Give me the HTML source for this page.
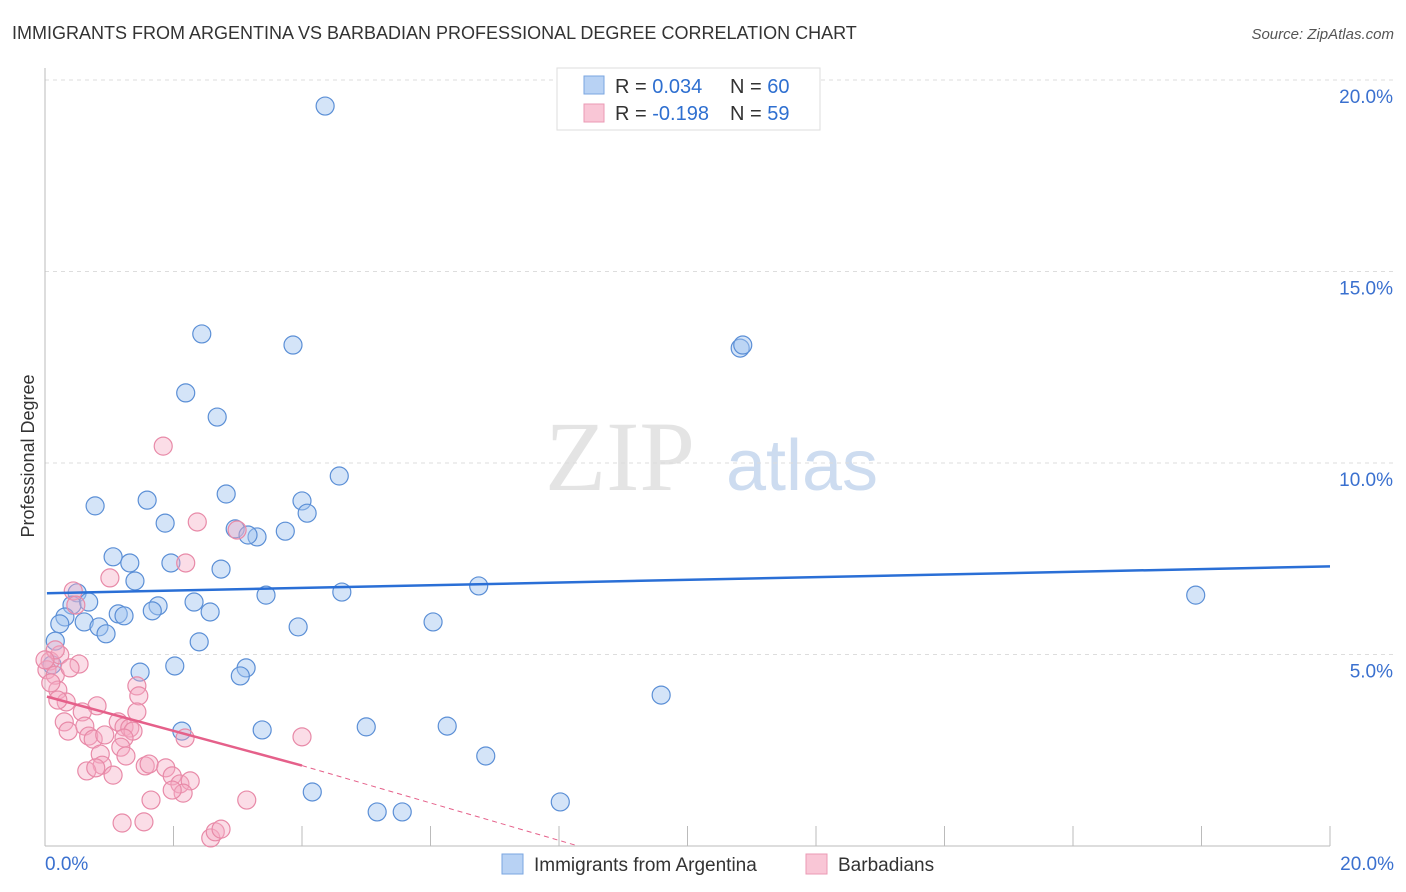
<!DOCTYPE html>
<html><head><meta charset="utf-8"><style>
body{margin:0;background:#fff;font-family:"Liberation Sans",sans-serif;}
svg{display:block}
</style></head><body>
<svg id="chart" width="1406" height="892">
<text x="12" y="39" font-size="18" fill="#333">IMMIGRANTS FROM ARGENTINA VS BARBADIAN PROFESSIONAL DEGREE CORRELATION CHART</text>
<text x="1394" y="39" font-size="15" fill="#555" font-style="italic" text-anchor="end">Source: ZipAtlas.com</text>
<text x="620" y="490" font-size="100" fill="#e4e4e4" font-family="Liberation Serif,serif" text-anchor="middle">ZIP</text>
<text x="802" y="490" font-size="72" fill="#cddcf0" text-anchor="middle">atlas</text>
<g id="grid"></g>
<g id="axes"></g>
<g id="marks"></g>
<text transform="translate(34,456) rotate(-90)" font-size="18" fill="#333" text-anchor="middle">Professional Degree</text>
<g>
<rect x="557" y="68" width="263" height="62" fill="#fff" stroke="#ddd"/>
<rect x="584" y="76" width="20" height="18" fill="#b8d2f4" stroke="#7aa6e0"/>
<rect x="584" y="104" width="20" height="18" fill="#f9c6d6" stroke="#eb9ab4"/>
<text x="615" y="93" font-size="20" fill="#333">R = <tspan fill="#2e6fd0">0.034</tspan><tspan x="730">N = </tspan><tspan fill="#2e6fd0">60</tspan></text>
<text x="615" y="120" font-size="20" fill="#333">R = <tspan fill="#2e6fd0">-0.198</tspan><tspan x="730">N = </tspan><tspan fill="#2e6fd0">59</tspan></text>
</g>
<g>
<rect x="502" y="854" width="21" height="20" fill="#b8d2f4" stroke="#7aa6e0"/>
<text x="534" y="871" font-size="19" fill="#333">Immigrants from Argentina</text>
<rect x="806" y="854" width="21" height="20" fill="#f9c6d6" stroke="#eb9ab4"/>
<text x="838" y="871" font-size="19" fill="#333">Barbadians</text>
</g>
</svg>
<script>
const yTicks=[5,10,15,20];
const yTickLabels=["5.0%","10.0%","15.0%","20.0%"];
const xTickLabels=["0.0%","20.0%"];
const blueX=[4.36,2.44,3.86,2.19,2.68,10.82,10.86,4.58,0.78,1.59,2.82,4.00,4.08,1.87,2.96,3.30,3.16,3.74,1.06,1.32,1.96,2.74,1.40,6.75,4.62,3.44,17.91,0.50,0.42,0.68,2.32,1.76,1.67,2.57,1.14,1.23,0.31,0.23,0.61,0.84,0.95,3.94,6.04,2.40,0.16,2.02,3.13,3.04,1.48,9.59,2.13,3.38,5.00,6.26,6.86,4.16,8.02,5.17,5.56,0.11];
const blueY=[19.32,13.37,13.08,11.83,11.20,13.00,13.08,9.66,8.88,9.03,9.19,9.01,8.69,8.43,8.28,8.07,8.12,8.22,7.55,7.39,7.39,7.23,6.92,6.79,6.63,6.55,6.55,6.61,6.29,6.37,6.37,6.27,6.14,6.11,6.06,6.01,5.98,5.80,5.85,5.72,5.54,5.72,5.85,5.33,5.35,4.70,4.65,4.44,4.54,3.94,3.00,3.03,3.11,3.13,2.35,1.41,1.15,0.89,0.89,4.73];
const pinkX=[1.84,2.37,2.99,2.19,1.01,0.44,0.48,0.08,0.23,0.53,0.03,0.16,0.20,0.09,0.81,0.33,1.43,1.46,1.43,0.58,0.30,0.36,0.62,0.68,1.14,1.23,1.32,1.37,0.75,0.93,1.23,2.18,1.18,0.86,0.89,1.26,1.56,1.62,1.88,1.98,2.10,2.26,0.65,0.79,1.06,2.15,1.65,3.14,4.00,1.20,1.54,2.58,2.65,2.74,0.16,0.00,0.20,0.39,1.98];
const pinkY=[10.44,8.46,8.25,7.39,7.00,6.66,6.29,4.83,4.99,4.75,4.60,4.46,4.07,4.26,3.66,3.76,4.18,3.92,3.50,3.50,3.24,3.00,3.13,2.87,3.24,3.11,3.08,3.00,2.79,2.90,2.82,2.82,2.58,2.40,2.11,2.35,2.09,2.14,2.04,1.83,1.62,1.70,1.96,2.04,1.85,1.38,1.20,1.20,2.85,0.60,0.63,0.21,0.37,0.44,5.12,4.86,3.81,4.65,1.46];
const blueTrend=[6.6,7.3];
const pinkTrend=[3.9,2.1,0.0];
const pinkTrendX=[0.03,4.0,8.3];

const NS="http://www.w3.org/2000/svg";
const X=v=>45+v*64.25, Y=v=>846-v*38.3;
function mk(tag,attrs,parent){const e=document.createElementNS(NS,tag);for(const k in attrs)e.setAttribute(k,attrs[k]);document.getElementById(parent).appendChild(e);return e;}
yTicks.forEach((t,i)=>{
  const l=mk('line',{x1:45,x2:1394,y1:Y(t),y2:Y(t),stroke:'#ddd','stroke-dasharray':'4,4'},'grid');
  
  
  const tx=mk('text',{x:1393,y:Y(t)+23,'font-size':19,fill:'#3a70cf','text-anchor':'end'},'axes');
  tx.textContent=yTickLabels[i];
  
  
});
mk('line',{x1:45,x2:45,y1:68,y2:846,stroke:'#bbb'},'axes');
mk('line',{x1:45,x2:1330,y1:846,y2:846,stroke:'#bbb'},'axes');
for(let i=0;i<=10;i++){const t=mk('line',{x1:X(i*2),x2:X(i*2),y1:826,y2:846,stroke:'#bbb'},'axes');
  
  }
const xl0=mk('text',{x:45,y:870,'font-size':19,fill:'#3a70cf'},'axes');xl0.textContent=xTickLabels[0];


const xl1=mk('text',{x:1394,y:870,'font-size':19,fill:'#3a70cf','text-anchor':'end'},'axes');xl1.textContent=xTickLabels[1];


blueX.forEach((v,i)=>{const c=mk('circle',{cx:X(v),cy:Y(blueY[i]),r:9,fill:'rgba(160,195,240,0.45)',stroke:'#5b8fd6','stroke-width':1.2},'marks');
  
  });
pinkX.forEach((v,i)=>{const c=mk('circle',{cx:X(v),cy:Y(pinkY[i]),r:9,fill:'rgba(245,170,195,0.4)',stroke:'#e88aa8','stroke-width':1.2},'marks');
  
  });
const bt=mk('line',{x1:X(0.03),y1:Y(blueTrend[0]),x2:X(20),y2:Y(blueTrend[1]),stroke:'#2a6fd6','stroke-width':2.5},'marks');


const pt=mk('line',{x1:X(pinkTrendX[0]),y1:Y(pinkTrend[0]),x2:X(pinkTrendX[1]),y2:Y(pinkTrend[1]),stroke:'#e5608a','stroke-width':2.5},'marks');


const pd=mk('line',{x1:X(pinkTrendX[1]),y1:Y(pinkTrend[1]),x2:X(pinkTrendX[2]),y2:Y(pinkTrend[2]),stroke:'#e5608a','stroke-width':1,'stroke-dasharray':'5,4'},'marks');


</script>
</body></html>
